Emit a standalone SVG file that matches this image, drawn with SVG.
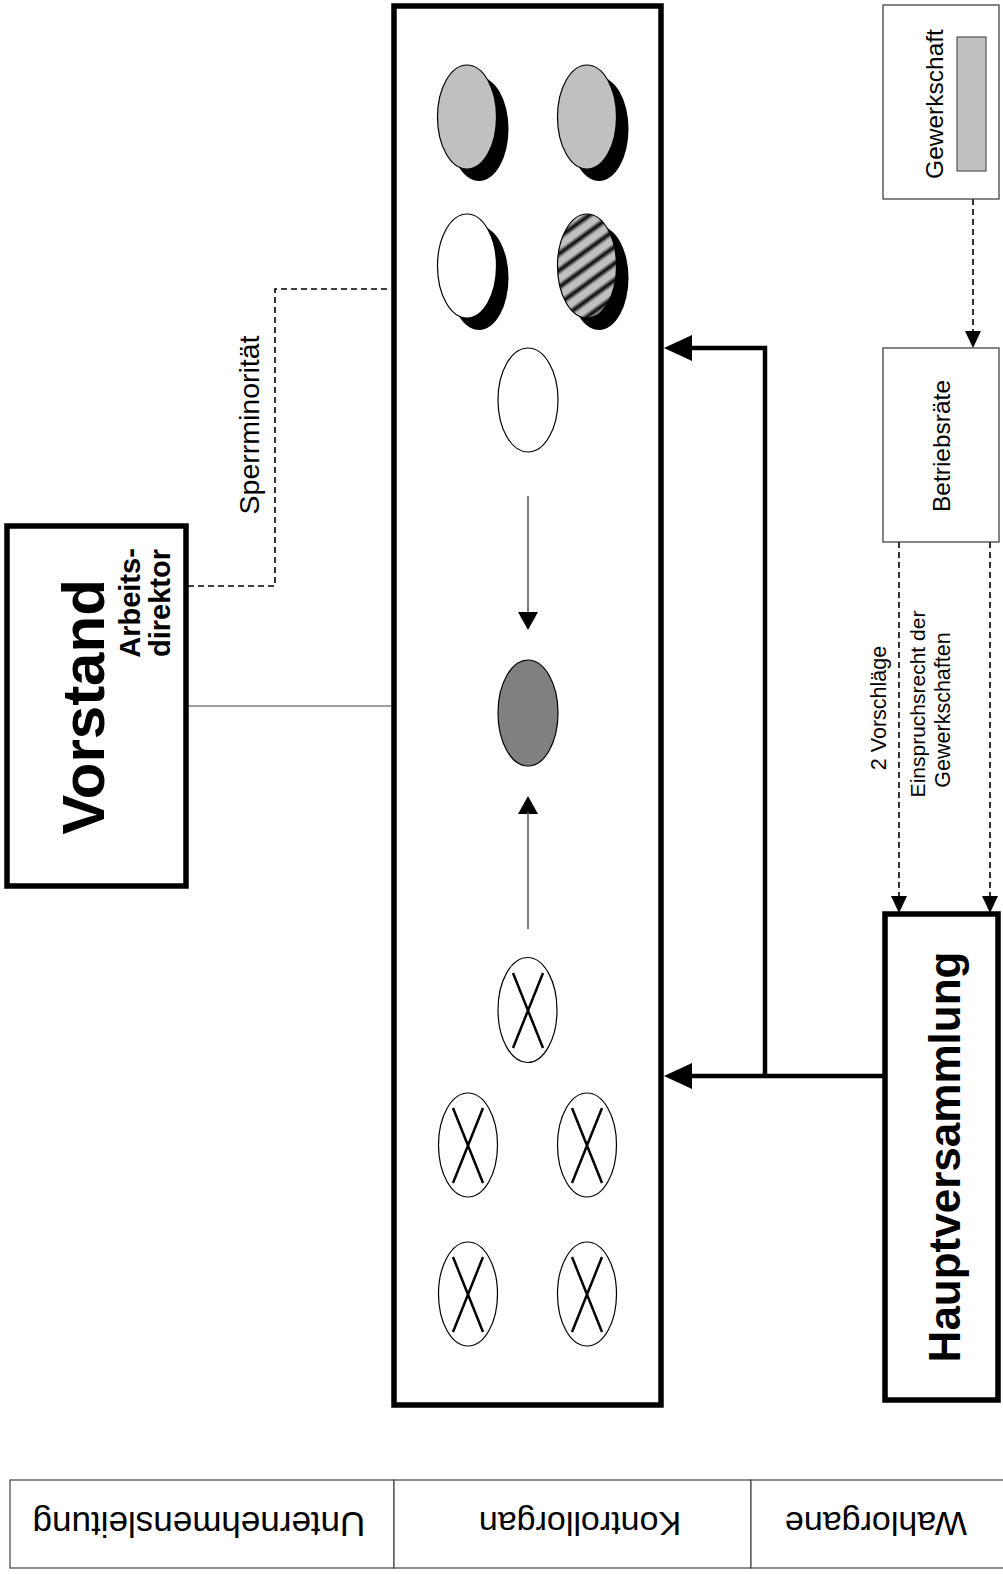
<svg xmlns="http://www.w3.org/2000/svg" width="1003" height="1574" viewBox="0 0 1003 1574">
<style>
text{font-family:"Liberation Sans",Arial,sans-serif;fill:#000}
.thick{fill:#fff;stroke:#000;stroke-width:5.5}
.thin{fill:#fff;stroke:#333;stroke-width:1.2}
.seat{stroke:#000;stroke-width:1.2}
.shadow{fill:#000;stroke:none}
.x{stroke:#000;stroke-width:2.5;fill:none}
.dash{fill:none;stroke:#000;stroke-width:1.6;stroke-dasharray:6 4}
.bold{font-weight:bold}
.cell{fill:#fff;stroke:#444;stroke-width:1.2}
</style>
<defs>
<linearGradient id="stripeGrad" x1="0" y1="0" x2="0" y2="1">
<stop offset="0" stop-color="#c0c0c0"/>
<stop offset="0.25" stop-color="#c0c0c0"/>
<stop offset="0.55" stop-color="#000"/>
<stop offset="0.85" stop-color="#c0c0c0"/>
<stop offset="1" stop-color="#c0c0c0"/>
</linearGradient>
<pattern id="hatch" patternUnits="userSpaceOnUse" width="40" height="13.5" patternTransform="rotate(-36)">
<rect width="40" height="13.5" fill="url(#stripeGrad)"/>
</pattern>
</defs>

<g id="table">
<rect class="cell" x="10" y="1480" width="384" height="88"/>
<rect class="cell" x="394" y="1480" width="357" height="88"/>
<rect class="cell" x="751" y="1480" width="260" height="88"/>
<text transform="translate(199,1512) rotate(180)" font-size="35" text-anchor="middle">Unternehmensleitung</text>
<text transform="translate(580,1512) rotate(180)" font-size="34" text-anchor="middle">Kontrollorgan</text>
<text transform="translate(876,1512) rotate(180)" font-size="34" text-anchor="middle">Wahlorgane</text>
</g>

<g id="connectors">
<line x1="187" y1="706" x2="391" y2="706" stroke="#404040" stroke-width="1.2"/>
<path class="dash" d="M188,586 H275 V289 H391"/>
<text transform="translate(259,425) rotate(-90)" font-size="28.5" text-anchor="middle">Sperrminorität</text>
<path d="M885,1076 H690 M765,1076 V348 H690" fill="none" stroke="#000" stroke-width="4.5"/>
<polygon points="664,1076 692,1063 692,1089" fill="#000"/>
<polygon points="664,348 692,335 692,361" fill="#000"/>
<line class="dash" x1="973" y1="199" x2="973" y2="332"/>
<polygon points="973,348 965,331 981,331" fill="#000"/>
<line class="dash" x1="899" y1="542" x2="899" y2="897"/>
<polygon points="899,913 891,896 907,896" fill="#000"/>
<line class="dash" x1="990" y1="542" x2="990" y2="897"/>
<polygon points="990,913 982,896 998,896" fill="#000"/>
<text transform="translate(886,708) rotate(-90)" font-size="21.5" text-anchor="middle">2 Vorschläge</text>
<text transform="translate(925,704) rotate(-90)" font-size="21" text-anchor="middle">Einspruchsrecht der</text>
<text transform="translate(950,710) rotate(-90)" font-size="21.5" text-anchor="middle">Gewerkschaften</text>
</g>

<g id="vorstand">
<rect class="thick" x="7" y="526" width="179" height="360" stroke-width="5"/>
<text class="bold" transform="translate(104,707) rotate(-90)" font-size="60" text-anchor="middle">Vorstand</text>
<text class="bold" transform="translate(140,603) rotate(-90)" font-size="29" text-anchor="middle">Arbeits-</text>
<text class="bold" transform="translate(170,603) rotate(-90)" font-size="29" text-anchor="middle">direktor</text>
</g>

<g id="kontrollorgan">
<rect class="thick" x="394" y="6" width="267" height="1399"/>
<g id="seats-shareholders">
<ellipse class="shadow" cx="479" cy="129" rx="29.5" ry="52"/>
<ellipse class="seat" cx="467" cy="117" rx="29.5" ry="52" fill="#c0c0c0"/>
<ellipse class="shadow" cx="599" cy="129" rx="29.5" ry="52"/>
<ellipse class="seat" cx="587" cy="117" rx="29.5" ry="52" fill="#c0c0c0"/>
<ellipse class="shadow" cx="479" cy="278" rx="29.5" ry="52"/>
<ellipse class="seat" cx="467" cy="266" rx="29.5" ry="52" fill="#fff"/>
<ellipse class="shadow" cx="599" cy="278" rx="29.5" ry="52"/>
<ellipse class="seat" cx="587" cy="266" rx="29.5" ry="52" fill="url(#hatch)"/>
</g>
<ellipse class="seat" cx="528" cy="400" rx="30" ry="52" fill="#fff"/>
<line x1="528" y1="496" x2="528" y2="614" stroke="#555" stroke-width="1.5"/>
<polygon points="528,630 518,612 538,612" fill="#000"/>
<ellipse class="seat" cx="528" cy="713" rx="30" ry="53" fill="#808080"/>
<polygon points="528,796 518,814 538,814" fill="#000"/>
<line x1="528" y1="812" x2="528" y2="929" stroke="#555" stroke-width="1.5"/>
<g id="seats-workers">
<ellipse class="seat" cx="527.5" cy="1010" rx="29.5" ry="52.5" fill="#fff"/>
<path class="x" d="M513,973 L543,1048 M543,973 L513,1048"/>
<ellipse class="seat" cx="468" cy="1145" rx="29.5" ry="52" fill="#fff"/>
<path class="x" d="M453,1108 L483,1183 M483,1108 L453,1183"/>
<ellipse class="seat" cx="587" cy="1145" rx="29.5" ry="52" fill="#fff"/>
<path class="x" d="M572,1108 L602,1183 M602,1108 L572,1183"/>
<ellipse class="seat" cx="468" cy="1294" rx="29.5" ry="52" fill="#fff"/>
<path class="x" d="M453,1257 L483,1332 M483,1257 L453,1332"/>
<ellipse class="seat" cx="587" cy="1294" rx="29.5" ry="52" fill="#fff"/>
<path class="x" d="M572,1257 L602,1332 M602,1257 L572,1332"/>
</g>
</g>

<g id="gewerkschaft">
<rect class="thin" x="883" y="5" width="116" height="194"/>
<rect x="957" y="37" width="29" height="134" fill="#c0c0c0" stroke="#555" stroke-width="1.2"/>
<text transform="translate(943,104) rotate(-90)" font-size="24.5" text-anchor="middle">Gewerkschaft</text>
</g>

<g id="betriebsraete">
<rect class="thin" x="883" y="348" width="116" height="194"/>
<text transform="translate(950,446) rotate(-90)" font-size="24.5" text-anchor="middle">Betriebsräte</text>
</g>

<g id="hauptversammlung">
<rect class="thick" x="885" y="914" width="113" height="486" stroke-width="5"/>
<text class="bold" transform="translate(960,1157) rotate(-90)" font-size="44" text-anchor="middle">Hauptversammlung</text>
</g>
</svg>
